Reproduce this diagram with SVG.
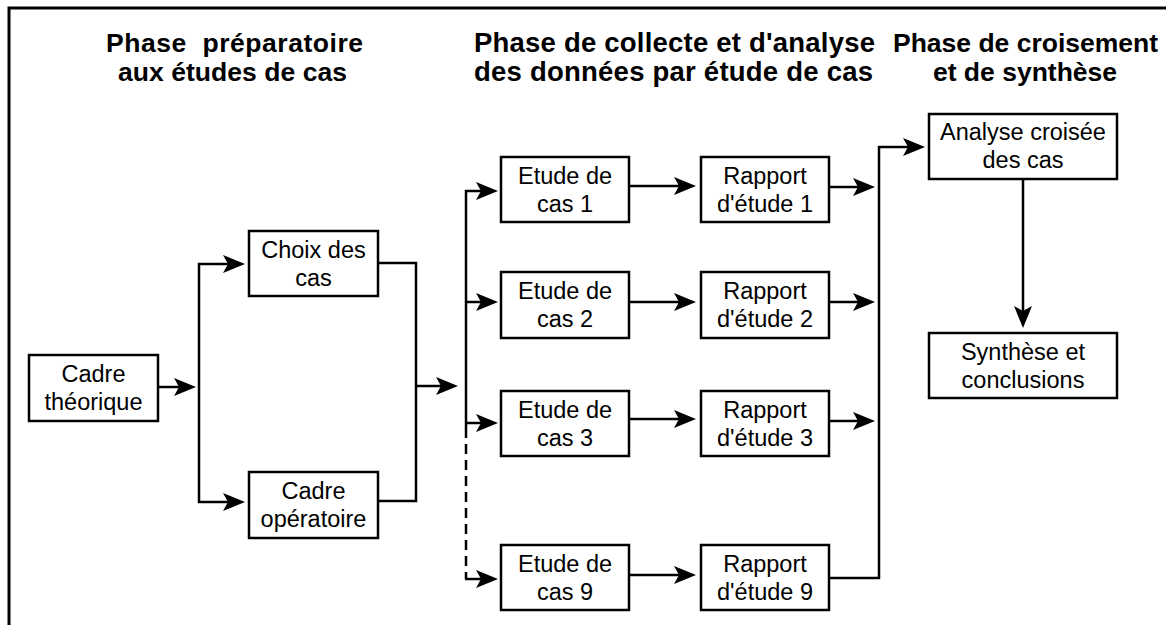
<svg xmlns="http://www.w3.org/2000/svg" width="1166" height="625" viewBox="0 0 1166 625">
<style>
.bg{fill:#fff}
.frame{fill:none;stroke:#000;stroke-width:3}
.box{fill:#fff;stroke:#000;stroke-width:2.5}
.lbl{font-family:"Liberation Sans",Arial,sans-serif;font-size:23.5px;fill:#000;text-anchor:middle}
.ttl{font-family:"Liberation Sans",Arial,sans-serif;font-size:26.5px;font-weight:bold;fill:#000;text-anchor:middle;white-space:pre}
.ttl2{font-size:27.5px}
.ln{fill:none;stroke:#000;stroke-width:2.5}
.arr{fill:none;stroke:#000;stroke-width:2.5;marker-end:url(#ah)}
.dash{fill:none;stroke:#000;stroke-width:2.5;stroke-dasharray:10 6}
</style>
<defs>
<marker id="ah" markerUnits="userSpaceOnUse" markerWidth="24" markerHeight="20" viewBox="0 -10 24 20" refX="14" refY="0" orient="auto">
<path d="M0,-9 L22,0 L0,9 L5,0 z" fill="#000"/>
</marker>
</defs>
<rect class="bg" x="0" y="0" width="1166" height="625"/>
<path class="frame" d="M9,625 V8 H1166"/>
<g id="titles">
<text class="ttl" x="234.5" y="52" xml:space="preserve" textLength="257" lengthAdjust="spacing">Phase  préparatoire</text>
<text class="ttl" x="232.5" y="81" textLength="229" lengthAdjust="spacing">aux études de cas</text>
<text class="ttl ttl2" x="674.5" y="52" textLength="401" lengthAdjust="spacing">Phase de collecte et d'analyse</text>
<text class="ttl ttl2" x="673.5" y="81" textLength="399" lengthAdjust="spacing">des données par étude de cas</text>
<text class="ttl" x="1025.5" y="52" textLength="265" lengthAdjust="spacing">Phase de croisement</text>
<text class="ttl" x="1025" y="81">et de synthèse</text>
</g>
<g id="connectors">
<path class="arr" d="M158,387 H188"/>
<path class="arr" d="M199,387 V264 H237"/>
<path class="arr" d="M199,387 V502 H237"/>
<path class="ln" d="M378,263 H416 V501 H378"/>
<path class="arr" d="M416,386 H450"/>
<path class="arr" d="M466,428 V191 H490"/>
<path class="arr" d="M466,302 H490"/>
<path class="arr" d="M466,423 H490"/>
<path class="dash" d="M466,428 V579"/>
<path class="arr" d="M465,579 H490"/>
<path class="arr" d="M629,186 H688"/>
<path class="arr" d="M629,302 H688"/>
<path class="arr" d="M629,419 H688"/>
<path class="arr" d="M629,575 H688"/>
<path class="arr" d="M829,187 H867"/>
<path class="arr" d="M829,302 H867"/>
<path class="arr" d="M829,421 H867"/>
<path class="arr" d="M829,578 H879 V147 H917"/>
<path class="arr" d="M1023,179 V320"/>
</g>
<g id="cadre-theorique"><rect class="box" x="29" y="355" width="129" height="66"/><text class="lbl" x="93.5" y="382">Cadre</text><text class="lbl" x="93.5" y="410">théorique</text></g>
<g id="choix-des-cas"><rect class="box" x="249" y="231" width="129" height="65"/><text class="lbl" x="313.5" y="258">Choix des</text><text class="lbl" x="313.5" y="286">cas</text></g>
<g id="cadre-operatoire"><rect class="box" x="249" y="472" width="129" height="66"/><text class="lbl" x="313.5" y="499">Cadre</text><text class="lbl" x="313.5" y="527">opératoire</text></g>
<g id="etude-1"><rect class="box" x="501" y="157" width="128" height="65"/><text class="lbl" x="565" y="184">Etude de</text><text class="lbl" x="565" y="212">cas 1</text></g>
<g id="etude-2"><rect class="box" x="501" y="272" width="128" height="66"/><text class="lbl" x="565" y="299">Etude de</text><text class="lbl" x="565" y="327">cas 2</text></g>
<g id="etude-3"><rect class="box" x="501" y="391" width="128" height="65"/><text class="lbl" x="565" y="418">Etude de</text><text class="lbl" x="565" y="446">cas 3</text></g>
<g id="etude-9"><rect class="box" x="501" y="545" width="128" height="65"/><text class="lbl" x="565" y="572">Etude de</text><text class="lbl" x="565" y="600">cas 9</text></g>
<g id="rapport-1"><rect class="box" x="701" y="157" width="128" height="65"/><text class="lbl" x="765" y="184">Rapport</text><text class="lbl" x="765" y="212">d'étude 1</text></g>
<g id="rapport-2"><rect class="box" x="701" y="272" width="128" height="66"/><text class="lbl" x="765" y="299">Rapport</text><text class="lbl" x="765" y="327">d'étude 2</text></g>
<g id="rapport-3"><rect class="box" x="701" y="391" width="128" height="65"/><text class="lbl" x="765" y="418">Rapport</text><text class="lbl" x="765" y="446">d'étude 3</text></g>
<g id="rapport-9"><rect class="box" x="701" y="545" width="128" height="65"/><text class="lbl" x="765" y="572">Rapport</text><text class="lbl" x="765" y="600">d'étude 9</text></g>
<g id="analyse-croisee"><rect class="box" x="929" y="114" width="188" height="65"/><text class="lbl" x="1023" y="140">Analyse croisée</text><text class="lbl" x="1023" y="168">des cas</text></g>
<g id="synthese"><rect class="box" x="929" y="333" width="188" height="65"/><text class="lbl" x="1023" y="360">Synthèse et</text><text class="lbl" x="1023" y="388">conclusions</text></g>
</svg>
